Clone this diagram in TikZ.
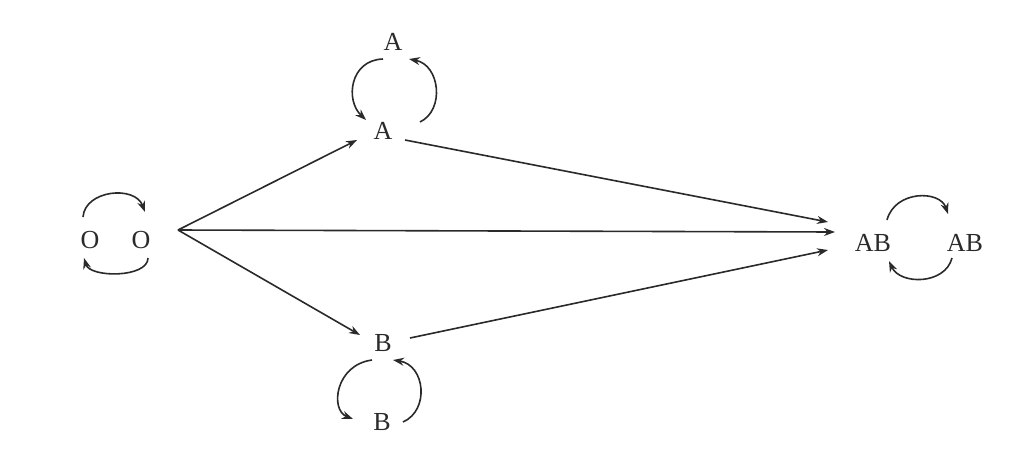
\documentclass[tikz,border=0pt]{standalone}
\usepackage{fontspec}
\setmainfont{Liberation Serif}
\usetikzlibrary{arrows.meta,calc}
\definecolor{ink}{HTML}{2A2A2A}
\begin{document}
\begin{tikzpicture}[x=1pt,y=-1pt,
  lbl/.style={inner sep=0pt,text=ink,font=\fontsize{26}{26}\selectfont},
  conn/.style={draw=ink,line width=1.6pt,-{Stealth[length=11pt,width=8pt]}}]
\useasboundingbox[fill=white] (0,0) rectangle (1024,472);
\node[lbl] (O1) at (90,240) {O};
\node[lbl] (O2) at (141,240) {O};
\node[lbl] (A1) at (393,42) {A};
\node[lbl] (A2) at (383,131) {A};
\node[lbl] (B1) at (383,343) {B};
\node[lbl] (B2) at (382,422) {B};
\node[lbl] (AB1) at (873,243) {AB};
\node[lbl] (AB2) at (965,243) {AB};
\coordinate (src) at (178,230);
% main arrows
\draw[conn] (src) -- ($(A2)+(-26,9)$);
\draw[conn] (src) -- ($(AB1)+(-38,-11)$);
\draw[conn] (src) -- ($(B1)+(-23,-8)$);
\draw[conn] ($(A2)+(22,9)$) -- ($(AB1)+(-45,-21)$);
\draw[conn] ($(B1)+(27,-5)$) -- ($(AB1)+(-45,7)$);
% O loop
\draw[conn] ($(O1)+(-7,-23)$) .. controls (85,190) and (135,185) .. ($(O2)+(4,-28)$);
\draw[conn] ($(O2)+(7,18)$) .. controls (148,278) and (90,278) .. ($(O1)+(-6,18)$);
% A loop
\draw[conn] ($(A1)+(-10,17)$) .. controls (350,60) and (345,100) .. ($(A2)+(-17,-11)$);
\draw[conn] ($(A2)+(37,-9)$) .. controls (445,110) and (440,65) .. ($(A1)+(16,17)$);
% B loop
\draw[conn] ($(B1)+(-11,17)$) .. controls (335,365) and (330,410) .. ($(B2)+(-29,-3)$);
\draw[conn] ($(B2)+(21,0)$) .. controls (430,410) and (425,365) .. ($(B1)+(10,17)$);
% AB loop
\draw[conn] ($(AB1)+(14,-23)$) .. controls (895,190) and (940,190) .. ($(AB2)+(-17,-29)$);
\draw[conn] ($(AB2)+(-13,15)$) .. controls (945,285) and (900,285) .. ($(AB1)+(16,18)$);
\end{tikzpicture}
\end{document}
